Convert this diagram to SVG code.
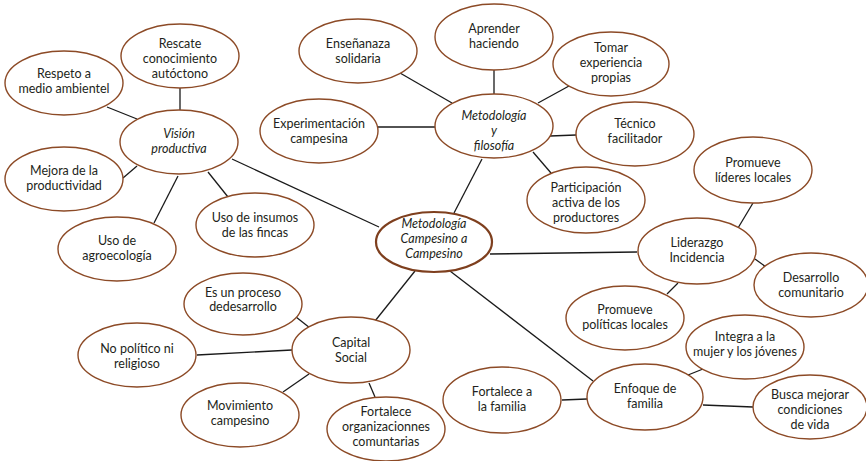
<svg xmlns="http://www.w3.org/2000/svg" width="866" height="461" viewBox="0 0 866 461">
  <style>
    .bubble { fill: #ffffff; stroke: #8c4a26; stroke-width: 1.4; }
    .core { fill: #ffffff; stroke: #7e3f1e; stroke-width: 2.2; }
    .link { stroke: #1a1a1a; stroke-width: 1.3; fill: none; }
    text { font-family: Lato, "Open Sans", "Liberation Sans", sans-serif; font-size: 12.5px; fill: #231f20; text-anchor: middle; }
    .it { font-style: italic; }
  </style>
  <rect width="866" height="461" fill="#ffffff"/>

  <g id="connectors">
    <line class="link" x1="180" y1="88" x2="180" y2="110"/>
    <line class="link" x1="107" y1="107" x2="137" y2="119"/>
    <line class="link" x1="123" y1="178" x2="137" y2="166"/>
    <line class="link" x1="178" y1="176" x2="154" y2="223"/>
    <line class="link" x1="208" y1="172" x2="228" y2="197"/>
    <line class="link" x1="232" y1="159" x2="379" y2="227"/>
    <line class="link" x1="400" y1="73" x2="452" y2="103"/>
    <line class="link" x1="494" y1="70" x2="494" y2="94"/>
    <line class="link" x1="569" y1="86" x2="538" y2="103"/>
    <line class="link" x1="378" y1="127" x2="435" y2="127"/>
    <line class="link" x1="550" y1="136" x2="576" y2="135"/>
    <line class="link" x1="533" y1="152" x2="551" y2="173"/>
    <line class="link" x1="482" y1="159" x2="454" y2="213"/>
    <line class="link" x1="490" y1="254" x2="637" y2="252"/>
    <line class="link" x1="753" y1="203" x2="738" y2="228"/>
    <line class="link" x1="755" y1="259" x2="766" y2="267"/>
    <line class="link" x1="678" y1="283" x2="667" y2="294"/>
    <line class="link" x1="415" y1="271" x2="375" y2="321"/>
    <line class="link" x1="450" y1="271" x2="593" y2="381"/>
    <line class="link" x1="296" y1="317" x2="310" y2="328"/>
    <line class="link" x1="197" y1="355" x2="292" y2="350"/>
    <line class="link" x1="283" y1="392" x2="309" y2="374"/>
    <line class="link" x1="369" y1="383" x2="375" y2="397"/>
    <line class="link" x1="688" y1="375" x2="703" y2="369"/>
    <line class="link" x1="562" y1="400" x2="587" y2="399"/>
    <line class="link" x1="703" y1="405" x2="753" y2="407"/>
  </g>

  <!-- Visión productiva branch -->
  <g id="rescate">
    <ellipse class="bubble" cx="180" cy="56" rx="59" ry="32"/>
    <text x="180" y="48">Rescate</text>
    <text x="180" y="63">conocimiento</text>
    <text x="180" y="78">autóctono</text>
  </g>
  <g id="respeto">
    <ellipse class="bubble" cx="64" cy="83" rx="59" ry="32"/>
    <text x="64" y="78">Respeto a</text>
    <text x="64" y="93">medio ambientel</text>
  </g>
  <g id="vision">
    <ellipse class="bubble" cx="179" cy="142" rx="59" ry="32"/>
    <text class="it" x="179" y="138">Visión</text>
    <text class="it" x="179" y="153">productiva</text>
  </g>
  <g id="mejora">
    <ellipse class="bubble" cx="64" cy="179" rx="59" ry="32"/>
    <text x="64" y="175">Mejora de la</text>
    <text x="64" y="190">productividad</text>
  </g>
  <g id="agroecologia">
    <ellipse class="bubble" cx="117" cy="249" rx="59" ry="32"/>
    <text x="117" y="245">Uso de</text>
    <text x="117" y="260">agroecología</text>
  </g>
  <g id="insumos">
    <ellipse class="bubble" cx="255" cy="225" rx="59" ry="32"/>
    <text x="255" y="222">Uso de insumos</text>
    <text x="255" y="237">de las fincas</text>
  </g>

  <!-- Metodología y filosofía branch -->
  <g id="ensenanza">
    <ellipse class="bubble" cx="358" cy="51" rx="59" ry="32"/>
    <text x="358" y="48">Enseñanaza</text>
    <text x="358" y="63">solidaria</text>
  </g>
  <g id="aprender">
    <ellipse class="bubble" cx="494" cy="37" rx="59" ry="33"/>
    <text x="494" y="33">Aprender</text>
    <text x="494" y="48">haciendo</text>
  </g>
  <g id="tomar">
    <ellipse class="bubble" cx="611" cy="64" rx="58" ry="32"/>
    <text x="611" y="52">Tomar</text>
    <text x="611" y="67">experiencia</text>
    <text x="611" y="82">propias</text>
  </g>
  <g id="experimentacion">
    <ellipse class="bubble" cx="319" cy="131" rx="59" ry="32"/>
    <text x="319" y="128">Experimentación</text>
    <text x="319" y="143">campesina</text>
  </g>
  <g id="filosofia">
    <ellipse class="bubble" cx="494" cy="126" rx="59" ry="32"/>
    <text class="it" x="494" y="120">Metodología</text>
    <text class="it" x="494" y="135">y</text>
    <text class="it" x="494" y="150">filosofía</text>
  </g>
  <g id="tecnico">
    <ellipse class="bubble" cx="635" cy="134" rx="59" ry="32"/>
    <text x="635" y="128">Técnico</text>
    <text x="635" y="143">facilitador</text>
  </g>
  <g id="participacion">
    <ellipse class="bubble" cx="586" cy="200" rx="59" ry="33"/>
    <text x="586" y="192">Participación</text>
    <text x="586" y="207">activa de los</text>
    <text x="586" y="222">productores</text>
  </g>

  <!-- Central concept -->
  <g id="metodologia-cac">
    <ellipse class="core" cx="434" cy="242" rx="58" ry="30"/>
    <text class="it" x="434" y="228">Metodología</text>
    <text class="it" x="434" y="243">Campesino a</text>
    <text class="it" x="434" y="258">Campesino</text>
  </g>

  <!-- Liderazgo branch -->
  <g id="lideres">
    <ellipse class="bubble" cx="753" cy="170" rx="59" ry="33"/>
    <text x="753" y="167">Promueve</text>
    <text x="753" y="182">líderes locales</text>
  </g>
  <g id="liderazgo">
    <ellipse class="bubble" cx="697" cy="251" rx="59" ry="33"/>
    <text x="697" y="247">Liderazgo</text>
    <text x="697" y="262">Incidencia</text>
  </g>
  <g id="desarrollo">
    <ellipse class="bubble" cx="811" cy="285" rx="57" ry="32"/>
    <text x="811" y="282">Desarrollo</text>
    <text x="811" y="297">comunitario</text>
  </g>
  <g id="politicas">
    <ellipse class="bubble" cx="625" cy="318" rx="59" ry="32"/>
    <text x="625" y="314">Promueve</text>
    <text x="625" y="329">políticas locales</text>
  </g>

  <!-- Capital Social branch -->
  <g id="proceso">
    <ellipse class="bubble" cx="243" cy="304" rx="59" ry="31"/>
    <text x="243" y="297">Es un proceso</text>
    <text x="243" y="311">dedesarrollo</text>
  </g>
  <g id="no-politico">
    <ellipse class="bubble" cx="137" cy="355" rx="59" ry="32"/>
    <text x="137" y="353">No político ni</text>
    <text x="137" y="368">religioso</text>
  </g>
  <g id="capital">
    <ellipse class="bubble" cx="351" cy="350" rx="59" ry="33"/>
    <text x="351" y="347">Capital</text>
    <text x="351" y="362">Social</text>
  </g>
  <g id="movimiento">
    <ellipse class="bubble" cx="240" cy="415" rx="59" ry="32"/>
    <text x="240" y="410">Movimiento</text>
    <text x="240" y="425">campesino</text>
  </g>
  <g id="fortalece-org">
    <ellipse class="bubble" cx="386" cy="429" rx="59" ry="32"/>
    <text x="386" y="416">Fortalece</text>
    <text x="386" y="431">organizacionnes</text>
    <text x="386" y="446">comuntarias</text>
  </g>

  <!-- Enfoque de familia branch -->
  <g id="integra">
    <ellipse class="bubble" cx="745" cy="347" rx="59" ry="32"/>
    <text x="745" y="341">Integra a la</text>
    <text x="745" y="356">mujer y los jóvenes</text>
  </g>
  <g id="fortalece-familia">
    <ellipse class="bubble" cx="502" cy="400" rx="59" ry="33"/>
    <text x="502" y="396">Fortalece a</text>
    <text x="502" y="411">la familia</text>
  </g>
  <g id="enfoque">
    <ellipse class="bubble" cx="645" cy="397" rx="58" ry="33"/>
    <text x="645" y="393">Enfoque de</text>
    <text x="645" y="408">familia</text>
  </g>
  <g id="busca">
    <ellipse class="bubble" cx="810" cy="407" rx="57" ry="32"/>
    <text x="810" y="399">Busca mejorar</text>
    <text x="810" y="414">condiciones</text>
    <text x="810" y="429">de vida</text>
  </g>
</svg>
